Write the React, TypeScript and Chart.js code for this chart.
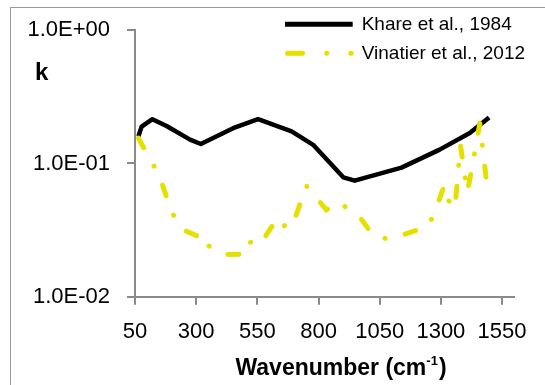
import React, { useEffect, useRef } from "react";
import { Chart, registerables } from "chart.js";

Chart.register(...registerables);

// Khare et al., 1984
const khareWavenumber = [64, 77, 121, 179, 275, 319, 451, 553, 690, 778, 901, 948, 1139, 1295, 1418, 1497];
const khareK = [0.16, 0.189, 0.215, 0.191, 0.151, 0.14, 0.184, 0.215, 0.174, 0.138, 0.0787, 0.0743, 0.093, 0.127, 0.169, 0.221];

// Vinatier et al., 2012
const vinatierWavenumber = [64, 104, 149, 200, 245, 315, 329, 353, 412, 492, 510, 559, 631, 642, 690, 750, 833, 860, 887, 969, 1023, 1091, 1248, 1279, 1314, 1343, 1359, 1380, 1408, 1425, 1459, 1486];
const vinatierK = [0.155, 0.1136, 0.0818, 0.043, 0.0319, 0.028, 0.0293, 0.024, 0.0207, 0.0209, 0.0261, 0.0243, 0.0388, 0.035, 0.0328, 0.068, 0.0447, 0.05, 0.0506, 0.0395, 0.0288, 0.0269, 0.0337, 0.045, 0.0687, 0.0457, 0.05, 0.137, 0.061, 0.0881, 0.2, 0.0742];

const seriesNames = ["Khare et al., 1984", "Vinatier et al., 2012"];
const xTickValues = [50, 300, 550, 800, 1050, 1300, 1550];
const xTickLabels = ["50", "300", "550", "800", "1050", "1300", "1550"];
const yTickValues = [0.01, 0.1, 1];
const yTickLabels = ["1.0E-02", "1.0E-01", "1.0E+00"];
const xTitle = "Wavenumber (cm";
const xTitleSup = "-1";
const yTitle = "k";

const FONT = "'Liberation Sans', Arial, sans-serif";
const YELLOW = "rgb(230,224,0)";
const AXIS_GRAY = "#8a8a8a";

export default function App() {
  const canvasRef = useRef<HTMLCanvasElement | null>(null);

  useEffect(() => {
    const canvas = canvasRef.current;
    if (!canvas) return;

    const decorPlugin = {
      id: "decor",
      afterDraw(chart: any) {
        const ctx = chart.ctx as CanvasRenderingContext2D;
        ctx.save();
        // y title
        ctx.fillStyle = "#000";
        ctx.font = `bold 24px ${FONT}`;
        ctx.textAlign = "left";
        ctx.textBaseline = "alphabetic";
        ctx.fillText(yTitle, 35, 80);

        // x title with superscript
        const mainFont = `bold 23px ${FONT}`;
        const supFont = `bold 13px ${FONT}`;
        ctx.font = mainFont;
        const w1 = ctx.measureText(xTitle).width;
        const w3 = ctx.measureText(")").width;
        ctx.font = supFont;
        const w2 = ctx.measureText(xTitleSup).width;
        const total = w1 + w2 + w3 + 1;
        let x = 341 - total / 2;
        const base = 375;
        ctx.font = mainFont;
        ctx.fillText(xTitle, x, base);
        x += w1;
        ctx.font = supFont;
        ctx.fillText(xTitleSup, x, base - 10);
        x += w2 + 1;
        ctx.font = mainFont;
        ctx.fillText(")", x, base);

        // legend
        ctx.lineCap = "butt";
        ctx.strokeStyle = "#000";
        ctx.lineWidth = 5;
        ctx.beginPath();
        ctx.moveTo(285, 24.3);
        ctx.lineTo(352.7, 24.3);
        ctx.stroke();

        ctx.strokeStyle = YELLOW;
        ctx.lineCap = "round";
        ctx.setLineDash([15, 24.2, 0.1, 24]);
        ctx.beginPath();
        ctx.moveTo(287.5, 53.3);
        ctx.lineTo(351.2, 53.3);
        ctx.stroke();
        ctx.setLineDash([]);

        ctx.fillStyle = "#000";
        ctx.font = `19px ${FONT}`;
        ctx.textBaseline = "middle";
        ctx.fillText(seriesNames[0], 361.7, 24.5);
        ctx.fillText(seriesNames[1], 361.7, 54);
        ctx.restore();
      },
    };

    const chart = new Chart(canvas, {
      type: "line",
      data: {
        datasets: [
          {
            label: seriesNames[0],
            data: khareWavenumber.map((w, i) => ({ x: w, y: khareK[i] })),
            borderColor: "#000",
            borderWidth: 4.5,
            borderJoinStyle: "round",
            borderCapStyle: "butt",
            pointRadius: 0,
            tension: 0,
            order: 1,
          },
          {
            label: seriesNames[1],
            data: vinatierWavenumber.map((w, i) => ({ x: w, y: vinatierK[i] })),
            borderColor: YELLOW,
            borderWidth: 5,
            borderJoinStyle: "round",
            borderCapStyle: "round",
            borderDash: [11, 21, 0.1, 21],
            pointRadius: 0,
            tension: 0,
            order: 0,
          },
        ],
      },
      options: {
        animation: false,
        responsive: false,
        devicePixelRatio: 1,
        layout: { padding: { left: 0, right: 30.7, top: 25, bottom: 0 } },
        plugins: {
          legend: { display: false },
          tooltip: { enabled: false },
          title: { display: false },
        },
        scales: {
          x: {
            type: "linear",
            min: 50,
            max: 1600,
            afterBuildTicks: (scale: any) => {
              scale.ticks = xTickValues.map((v) => ({ value: v }));
            },
            afterFit: (scale: any) => {
              scale.height = 88.3;
            },
            ticks: {
              font: { family: FONT, size: 22 },
              color: "#000",
              padding: 14,
              maxRotation: 0,
              autoSkip: false,
              callback: (value: any) => {
                const idx = xTickValues.indexOf(Number(value));
                return idx >= 0 ? xTickLabels[idx] : "";
              },
            },
            grid: {
              drawOnChartArea: false,
              drawTicks: true,
              tickLength: 8,
              color: AXIS_GRAY,
              lineWidth: 2,
            },
            border: { display: true, color: AXIS_GRAY, width: 2 },
          },
          y: {
            type: "logarithmic",
            min: 0.01,
            max: 1,
            afterBuildTicks: (scale: any) => {
              scale.ticks = yTickValues.map((v) => ({ value: v }));
            },
            afterFit: (scale: any) => {
              scale.width = 135;
            },
            ticks: {
              font: { family: FONT, size: 22 },
              color: "#000",
              padding: 17,
              autoSkip: false,
              callback: (value: any) => {
                const idx = yTickValues.findIndex((v) => Math.abs(v - Number(value)) < v * 1e-6);
                return idx >= 0 ? yTickLabels[idx] : "";
              },
            },
            grid: {
              drawOnChartArea: false,
              drawTicks: true,
              tickLength: 8,
              color: AXIS_GRAY,
              lineWidth: 2,
            },
            border: { display: true, color: AXIS_GRAY, width: 2 },
          },
        },
      },
      plugins: [decorPlugin],
    } as any);

    return () => chart.destroy();
  }, []);

  return (
    <div
      style={{
        position: "fixed",
        left: 0,
        top: 0,
        width: 545,
        height: 385,
        overflow: "hidden",
        background: "#fff",
      }}
    >
      <div
        style={{
          position: "absolute",
          left: 10,
          top: 7,
          width: 700,
          height: 500,
          borderLeft: "1.5px solid #9a9a9a",
          borderTop: "1.5px solid #9a9a9a",
        }}
      />
      <canvas
        ref={canvasRef}
        width={545}
        height={385}
        style={{ position: "absolute", left: 0, top: 0, width: 545, height: 385 }}
      />
    </div>
  );
}
